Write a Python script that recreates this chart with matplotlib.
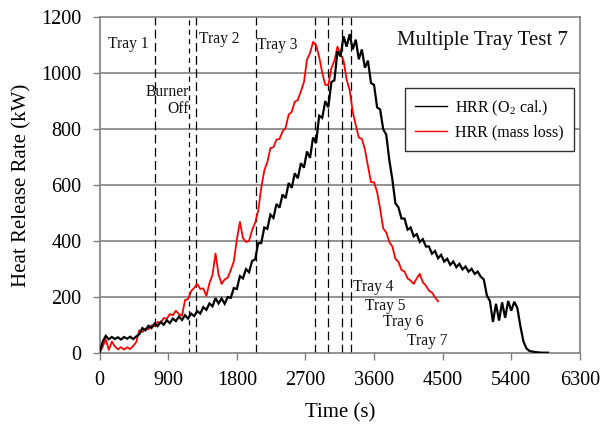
import numpy as np
import matplotlib
matplotlib.use("Agg")
import matplotlib.pyplot as plt

plt.rcParams['font.family'] = ['Liberation Serif', 'DejaVu Serif']
plt.rcParams['mathtext.fontset'] = 'stix'

# sampling step of the read-off curves (s)
step = 40

# HRR from oxygen calorimetry (kW), every 40 s from t = 0
hrr_o2 = [
    0, 40, 60, 48, 56, 49, 55, 47, 56, 50, 57, 49, 58, 66, 88, 80, 96, 88, 104, 95,
    110, 100, 116, 106, 122, 113, 129, 117, 134, 122, 140, 131, 149, 140, 163, 153, 176, 166, 195, 176,
    194, 175, 199, 196, 231, 228, 274, 266, 299, 288, 328, 334, 392, 392, 448, 443, 494, 482, 532, 519,
    566, 553, 607, 590, 642, 624, 678, 662, 720, 697, 770, 750, 848, 840, 900, 878, 968, 975, 1078, 1060,
    1132, 1095, 1140, 1085, 1120, 1050, 1085, 1020, 1045, 965, 958, 878, 870, 800, 780, 690, 620, 535, 520, 480,
    480, 440, 448, 416, 424, 396, 406, 380, 380, 354, 364, 338, 350, 326, 336, 314, 326, 306, 318, 298,
    308, 290, 300, 282, 290, 272, 262, 205, 185, 110, 175, 115, 180, 125, 185, 150, 182, 160, 95, 40,
    15, 6, 4, 2, 1, 0, 0, 0,
]

# HRR from mass loss (kW), every 40 s from t = 0
hrr_mass = [
    0, 22, 48, 10, 40, 22, 12, 20, 11, 19, 13, 24, 38, 80, 74, 86, 84, 98, 95, 110,
    106, 124, 121, 138, 134, 150, 138, 132, 188, 192, 220, 232, 246, 228, 230, 203, 248, 278, 355, 280,
    246, 262, 268, 296, 326, 405, 468, 410, 396, 400, 438, 465, 508, 590, 652, 682, 732, 735, 762, 765,
    792, 805, 852, 862, 898, 904, 935, 968, 1048, 1072, 1112, 1100, 1058, 1002, 958, 958, 1018, 1045, 1095, 1068,
    1045, 978, 940, 862, 815, 770, 765, 728, 668, 610, 610, 575, 515, 445, 430, 396, 380, 336, 325, 296,
    290, 266, 258, 246, 266, 282, 252, 240, 222, 215, 198, 184,
]

# event times (s)
event_times = [726, 1175, 1259, 2045, 2822, 2999, 3180, 3303]

# annotations: text, time, hrr, alignment
notes = [
    ("Tray 1", 376, 1104, "center"),
    ("Tray 2", 1302, 1121, "left"),
    ("Tray 3", 2066, 1100, "left"),
    ("Burner", 1170, 933, "right"),
    ("Off", 1170, 872, "right"),
    ("Tray 4", 3324, 234, "left"),
    ("Tray 5", 3477, 167, "left"),
    ("Tray 6", 3717, 111, "left"),
    ("Tray 7", 4031, 43, "left"),
]

t_o2 = np.arange(len(hrr_o2)) * step
t_mass = np.arange(len(hrr_mass)) * step

fig = plt.figure(figsize=(6.04, 4.33), dpi=100)
ax = fig.add_axes([0.165, 0.1855, 0.795, 0.7745])

grid_c = '#808080'
for yv in range(200, 1200, 200):
    ax.axhline(yv, color=grid_c, lw=1.2, zorder=1)

for tv in event_times:
    d = (4, 3.5) if tv == 1175 else (7, 3.5)
    ax.axvline(tv, color='black', lw=0.9, dashes=d, zorder=2)

ax.plot(t_o2, hrr_o2, color='black', lw=1.6, label='HRR (O$_{\\mathregular{2}}$ cal.)',
        solid_joinstyle='miter', zorder=4)
ax.plot(t_mass, hrr_mass, color='#ff0000', lw=1.3, label='HRR (mass loss)', zorder=3)

for txt, tx, ty, ha in notes:
    ax.text(tx, ty, txt, ha=ha, va='center', fontsize=11.2, color='#111111', zorder=5)

ax.text(0.9757, 0.932, 'Multiple Tray Test 7', transform=ax.transAxes,
        ha='right', va='center', fontsize=15, color='#111111')

ax.set_xlim(0, 6300)
ax.set_ylim(0, 1200)
ax.set_xticks(np.arange(0, 6301, 900))
ax.set_yticks(np.arange(0, 1201, 200))
ax.tick_params(direction='out', length=5, width=1, color=grid_c, labelsize=14.5, pad=8)
for s in ax.spines.values():
    s.set_color(grid_c)
    s.set_linewidth(1.2)

ax.set_xlabel('Time (s)', fontsize=15, labelpad=10)
ax.set_ylabel('Heat Release Rate (kW)', fontsize=15, labelpad=7)

leg = ax.legend(loc='upper left', bbox_to_anchor=(0.636, 0.789), borderaxespad=0,
                fontsize=11.5, fancybox=False, framealpha=1, edgecolor='#333333',
                handlelength=2.0, handletextpad=0.45, labelspacing=0.45, borderpad=0.65)
leg.get_frame().set_linewidth(1.0)
for h in leg.get_lines():
    h.set_linewidth(1.0)
leg.set_zorder(6)

fig.savefig('out.png', dpi=100)
